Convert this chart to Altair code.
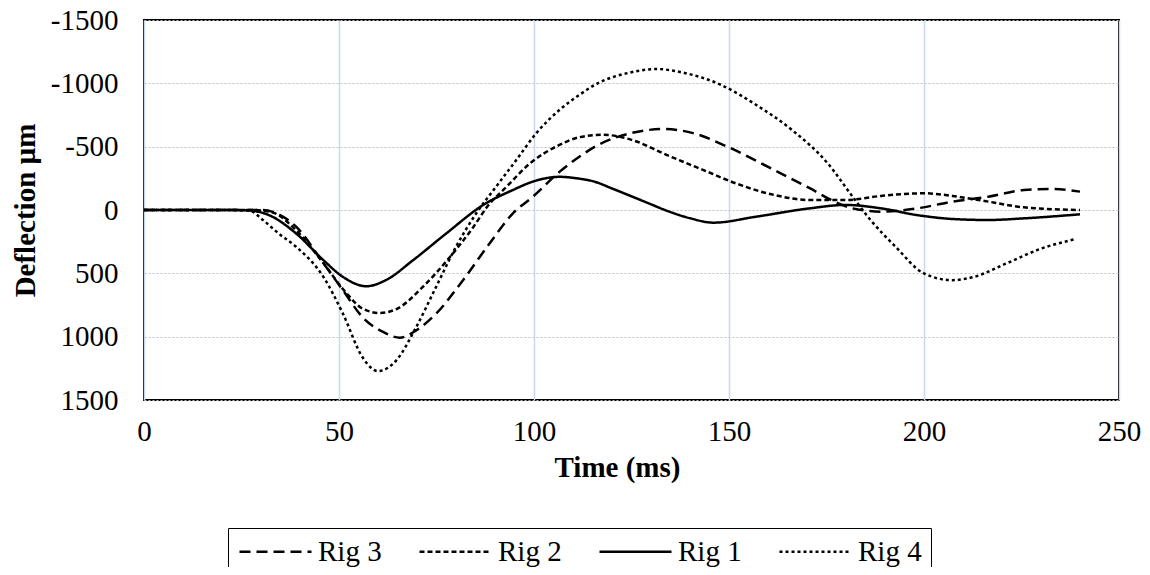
import altair as alt
import pandas as pd

rigs = ["Rig 3", "Rig 2", "Rig 1", "Rig 4"]

rig1_t = [0, 10, 20, 26, 32, 39, 46, 51, 57, 62, 69, 77.5, 87, 94.6, 99.7, 106.6, 111, 115.7, 120, 125, 130, 134, 140, 146, 156.9, 170.7, 179.9, 189, 198.2, 207.3, 216.5, 225.6, 240]
rig1_d = [0, 0, 0, 2, 40, 185, 396, 528, 602, 554, 396, 185, -40, -158, -224, -262, -250, -222, -170, -108, -45, 5, 65, 100, 53, -13, -40, -13, 40, 71, 79, 66, 34]

rig2_t = [0, 10, 20, 28, 33, 39, 46, 52, 56, 60.5, 65, 71.5, 78.5, 84.5, 88, 93, 99, 105.7, 111.7, 117.6, 125, 134, 143.3, 152.4, 161.5, 170.7, 180, 189, 200, 207.3, 216.5, 225.6, 240]
rig2_d = [0, 0, 0, 0, 20, 160, 420, 660, 778, 813, 778, 607, 369, 132, -26, -185, -369, -501, -575, -594, -554, -435, -317, -203, -119, -79, -79, -111, -132, -111, -66, -21, 0]

rig3_t = [0, 10, 20, 30, 33, 39, 46, 51, 56, 61.3, 65.6, 69.8, 74.9, 81.8, 88.6, 94.6, 99.7, 106.6, 111.7, 115.7, 124.9, 133.2, 140.8, 149.5, 161.5, 170.7, 176.2, 181.7, 189, 198.2, 207.3, 216.5, 225.6, 233, 240]
rig3_d = [0, 0, 0, 0, 15, 132, 420, 633, 845, 963, 1008, 950, 818, 554, 264, 26, -105, -303, -422, -501, -607, -639, -607, -501, -317, -172, -79, -13, 13, -13, -66, -105, -158, -166, -145]

rig4_t = [0, 10, 20, 27, 30.5, 34.5, 39, 46, 51, 56, 60, 64.7, 69.8, 74.9, 80, 85.2, 90.3, 95.5, 100.6, 106.6, 111.7, 115.7, 124.9, 131.3, 138.6, 147.8, 156.9, 166.1, 175.3, 181.7, 186.3, 192.7, 200, 207.3, 212.8, 221.1, 230.2, 238.5]
rig4_d = [0, 0, 0, 5, 79, 185, 290, 528, 818, 1161, 1272, 1187, 924, 607, 290, 26, -185, -396, -607, -792, -910, -990, -1087, -1113, -1082, -990, -831, -633, -369, -105, 79, 290, 501, 554, 528, 422, 303, 232]

x_ticks = [0, 50, 100, 150, 200, 250]
y_ticks = [-1500, -1000, -500, 0, 500, 1000, 1500]

series = {"Rig 1": (rig1_t, rig1_d), "Rig 2": (rig2_t, rig2_d),
          "Rig 3": (rig3_t, rig3_d), "Rig 4": (rig4_t, rig4_d)}
frames = []
for name, (t, d) in series.items():
    frames.append(pd.DataFrame({"Time": t, "Deflection": d, "Rig": name}))
df = pd.concat(frames, ignore_index=True)

dashes = [[11, 6], [5, 3], [1, 0], [3, 3]]
widths = [2.5, 2.5, 2.5, 3]
FONT = "Liberation Serif"

chart = alt.Chart(df).mark_line(color="black", interpolate="monotone").encode(
    x=alt.X("Time:Q", scale=alt.Scale(domain=[0, 250], nice=False),
            axis=alt.Axis(values=x_ticks, title="Time (ms)", grid=True, gridColor="#c6d9f1",
                          gridWidth=1.5, ticks=False, domain=False, labelPadding=17,
                          labelFlush=False,
                          labelFontSize=29, titleFontSize=29, labelFont=FONT, titleFont=FONT,
                          labelColor="black", titleColor="black", titleX=473, titleY=67,
                          titleBaseline="middle")),
    y=alt.Y("Deflection:Q", scale=alt.Scale(domain=[-1500, 1500], reverse=True, nice=False),
            axis=alt.Axis(values=y_ticks, title="Deflection µm", labelExpr="'' + datum.value",
                          grid=True, gridColor="#bfbfbf", gridDash=[2, 2], gridWidth=1,
                          ticks=False, domain=False, labelPadding=26, labelFlush=False,
                          labelFontSize=29, titleFontSize=29, labelFont=FONT, titleFont=FONT,
                          labelColor="black", titleColor="black", titleX=-119, titleY=190,
                          titleBaseline="middle", titleAlign="center", titleAngle=270)),
    strokeDash=alt.StrokeDash("Rig:N", scale=alt.Scale(domain=rigs, range=dashes),
                              legend=alt.Legend(title=None, orient="none", legendX=84, legendY=508,
                                                direction="horizontal", symbolType="M-1,0H5",
                                                symbolSize=576, symbolStrokeColor="black",
                                                symbolFillColor="transparent",
                                                symbolStrokeWidth=2, labelFont=FONT, labelFontSize=29,
                                                labelColor="black", strokeColor="black", padding=9,
                                                columnPadding=32, labelOffset=52)),
    strokeWidth=alt.StrokeWidth("Rig:N", scale=alt.Scale(domain=rigs, range=widths), legend=None),
).properties(
    width=975, height=380,
    autosize=alt.AutoSizeParams(type="none"),
    padding={"left": 136, "top": 12, "right": 22, "bottom": 167},
).configure_view(stroke="black", strokeWidth=2)

chart.save("out.html", embed_options={"renderer": "svg", "actions": False})
